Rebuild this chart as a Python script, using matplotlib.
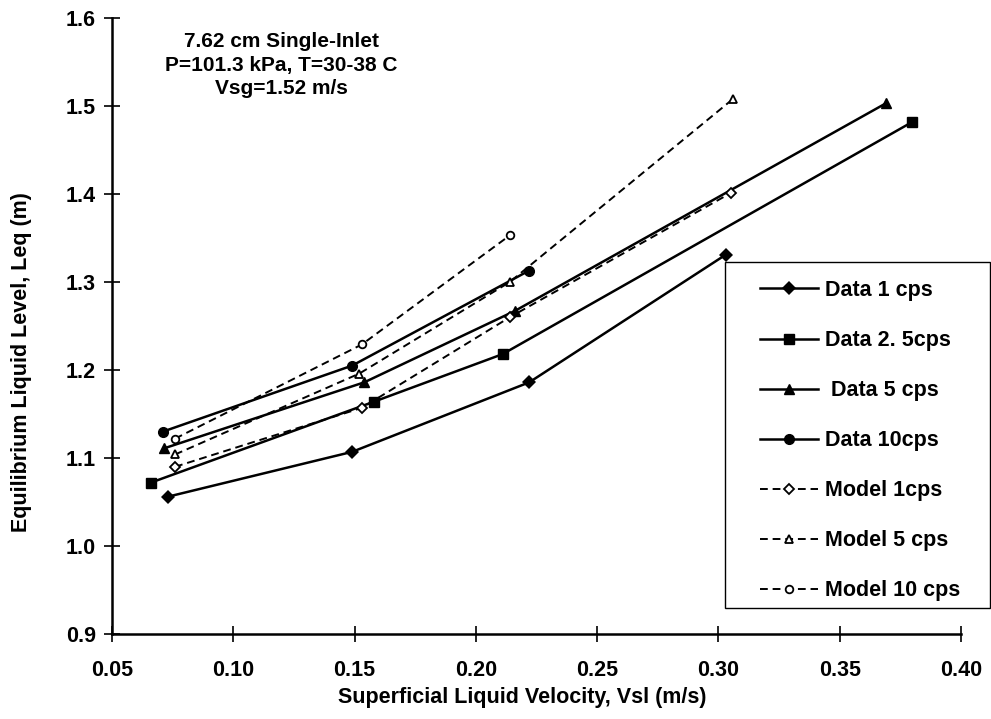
import matplotlib
matplotlib.use('Agg')
import matplotlib.pyplot as plt
from matplotlib.patches import Rectangle

plt.rcParams['font.family'] = ['Liberation Sans', 'DejaVu Sans']
plt.rcParams['font.weight'] = 'bold'

# data
data1_x = [0.073, 0.149, 0.222, 0.303]
data1_y = [1.056, 1.107, 1.186, 1.331]
data25_x = [0.066, 0.158, 0.211, 0.380]
data25_y = [1.072, 1.164, 1.218, 1.482]
data5_x = [0.0715, 0.154, 0.216, 0.369]
data5_y = [1.111, 1.186, 1.267, 1.503]
data10_x = [0.071, 0.149, 0.222]
data10_y = [1.130, 1.205, 1.313]
model1_x = [0.076, 0.153, 0.214, 0.305]
model1_y = [1.090, 1.157, 1.260, 1.401]
model5_x = [0.076, 0.152, 0.214, 0.306]
model5_y = [1.104, 1.196, 1.300, 1.508]
model10_x = [0.076, 0.153, 0.214]
model10_y = [1.122, 1.229, 1.353]

xticks = [0.05, 0.10, 0.15, 0.20, 0.25, 0.30, 0.35, 0.40]
yticks = [0.9, 1.0, 1.1, 1.2, 1.3, 1.4, 1.5, 1.6]

W, H = 991, 719
fig = plt.figure(figsize=(W / 100, H / 100), dpi=100)
ax = fig.add_axes([112 / W, 85 / H, 849 / W, 616 / H])

solid = dict(color='black', lw=1.8, ls='-', markersize=7)
dash = dict(color='black', lw=1.4, ls=(0, (4, 2.5)), markersize=5.5,
            markerfacecolor='white', markeredgewidth=1.3)

ax.plot(data1_x, data1_y, marker='D', label='Data 1 cps', **solid, markeredgewidth=0)
ax.plot(data25_x, data25_y, marker='s', label='Data 2. 5cps', **solid)
ax.plot(data5_x, data5_y, marker='^', label=' Data 5 cps', **solid)
ax.plot(data10_x, data10_y, marker='o', label='Data 10cps', **solid)
ax.plot(model1_x, model1_y, marker='D', label='Model 1cps', **dash)
ax.plot(model5_x, model5_y, marker='^', label='Model 5 cps', **dash)
ax.plot(model10_x, model10_y, marker='o', label='Model 10 cps', **dash)

ax.set_xlim(0.05, 0.40)
ax.set_ylim(0.9, 1.6)
ax.set_xticks(xticks)
ax.set_yticks(yticks)
ax.set_xticklabels(['%.2f' % v for v in xticks])
ax.set_yticklabels(['%.1f' % v for v in yticks])
ax.spines['top'].set_visible(False)
ax.spines['right'].set_visible(False)
ax.spines['left'].set_linewidth(1.8)
ax.spines['bottom'].set_linewidth(1.8)
ax.tick_params(direction='inout', length=11, width=1.2, labelsize=15.5)
ax.tick_params(axis='y', pad=6)
ax.tick_params(axis='x', pad=13)
for lab in ax.get_xticklabels() + ax.get_yticklabels():
    lab.set_fontweight('bold')

fig.text(522 / W, 1 - 697 / H, 'Superficial Liquid Velocity, Vsl (m/s)',
         ha='center', va='center', fontsize=15.5, fontweight='bold')
fig.text(22 / W, 1 - 362 / H, 'Equilibrium Liquid Level, Leq (m)',
         ha='center', va='center', rotation=90, fontsize=15.5, fontweight='bold')
fig.text(281 / W, 1 - 65 / H, '7.62 cm Single-Inlet\nP=101.3 kPa, T=30-38 C\nVsg=1.52 m/s',
         ha='center', va='center', multialignment='center', fontsize=15,
         fontweight='bold', linespacing=1.33)

# legend frame drawn separately so the inner padding can differ per side
fig.patches.append(Rectangle((725 / W, 1 - 608 / H), 265 / W, 346 / H,
                             transform=fig.transFigure, fill=False,
                             edgecolor='black', lw=1.0))
leg = fig.legend(loc='upper left', bbox_to_anchor=(760 / W, 1 - 280 / H),
                 fontsize=15.5, labelspacing=1.35, handlelength=2.7,
                 handletextpad=0.3, borderpad=0, borderaxespad=0, frameon=False)
for t in leg.get_texts():
    t.set_fontweight('bold')

fig.savefig('out.png', dpi=100)
